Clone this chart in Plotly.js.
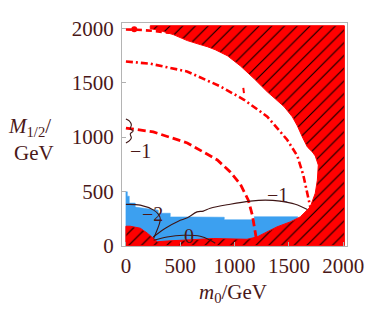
<!DOCTYPE html>
<html>
<head>
<meta charset="utf-8">
<script src="https://cdn.plot.ly/plotly-3.0.1.min.js"></script>
<style>html,body{margin:0;padding:0;background:#fff;}#chart{width:374px;height:313px;}</style>
</head>
<body>
<div id="chart"></div>
<script>
// Tick values
const tickVals = [0, 500, 1000, 1500, 2000];
const tickText = ["0", "500", "1000", "1500", "2000"];

// Excluded (red, hatched) region boundary: m0 and M1/2 in GeV
const redM0 = [0, 2010, 2010, 224, 224, 316, 436, 565, 684, 749, 822, 933, 1052, 1181, 1301, 1374, 1457, 1531, 1577, 1623, 1669, 1715, 1742, 1770, 1761, 1742, 1696, 1604, 1512, 1390, 1298, 1206, 1114, 804, 593, 408, 289, 252, 197, 132, 40, 0, 0];
const redM12 = [0, 0, 2025, 2025, 1998, 1980, 1943, 1888, 1851, 1832, 1804, 1749, 1656, 1536, 1416, 1352, 1278, 1186, 1103, 1001, 909, 863, 826, 742, 603, 483, 357, 265, 219, 173, 127, 80, 59, 66, 54, 45, 36, 68, 115, 161, 179, 179, 0];

// Blue region
const blueM0 = [0, 0, 13, 13, 31, 31, 86, 86, 298, 298, 408, 408, 565, 905, 905, 1181, 1181, 1580, 1580];
const blueM12 = [0, 496, 496, 456, 456, 392, 392, 355, 327, 299, 299, 265, 265, 262, 239, 239, 267, 267, 0];

// Red dashed contour
const dashM0 = [0, 252, 565, 730, 841, 960, 1052, 1126, 1163, 1190, 1209];
const dashM12 = [1083, 1047, 946, 853, 789, 678, 567, 419, 281, 123, 0];

// Red dash-dot contour
const dotM0 = [0, 224, 562, 871, 1087, 1301, 1485, 1577, 1632, 1696, 1733];
const dotM12 = [1696, 1675, 1604, 1465, 1343, 1188, 973, 826, 650, 354, 188];

// Red dashed contour along the top, plus small fragments
const topM0 = [0, 100, 250, 400];
const topM12 = [1990, 1988, 1978, 1960];
const blobM0 = [77];
const blobM12 = [1992];
const tickM0 = [1080, 1086];
const tickM12 = [1452, 1405];

// Black contours
const cM1aM0 = [0, 31, 50, 40, 68, 40, 50, 31, 0];
const cM1aM12 = [1167, 1149, 1112, 1075, 1057, 1029, 992, 964, 946];
const cM1bM0 = [251, 363, 482, 565, 654, 712, 776, 960, 1144, 1282, 1420, 1558, 1669];
const cM1bM12 = [80, 161, 226, 256, 311, 318, 345, 382, 410, 419, 410, 382, 333];
const cM2M0 = [0, 132, 255, 298, 316, 307, 286, 255];
const cM2M12 = [380, 373, 327, 290, 250, 198, 142, 66];
const c0M0 = [255, 378, 531, 684, 776, 822];
const c0M12 = [50, 80, 96, 87, 50, 22];

// Contour labels
const labText = ["\u22121", "\u22122", "0", "\u22121"];
const labM0 = [132, 243, 583, 1393];
const labM12 = [872, 289, 86, 464];

const RED = "#ff0000";
const BLUE = "rgb(60,160,240)";
const DARK = "#3e1414";
const TXT = "#4a1818";
const FONT = "Liberation Serif";

const traces = [
  {x: blueM0, y: blueM12, type: "scatter", mode: "lines+markers", fill: "toself",
   fillcolor: BLUE, line: {width: 0.5, color: BLUE, simplify: false},
   marker: {size: 1, opacity: 0}, hoverinfo: "skip"},
  {x: dashM0, y: dashM12, type: "scatter", mode: "lines",
   line: {color: RED, width: 2.8, dash: "8px,4px"}, hoverinfo: "skip"},
  {x: dotM0, y: dotM12, type: "scatter", mode: "lines",
   line: {color: RED, width: 2.6, dash: "7px,3px,2px,3px"}, hoverinfo: "skip"},
  {x: topM0, y: topM12, type: "scatter", mode: "lines",
   line: {color: RED, width: 2.6, dash: "6px,4px"}, hoverinfo: "skip"},
  {x: blobM0, y: blobM12, type: "scatter", mode: "markers",
   marker: {color: RED, size: 6}, hoverinfo: "skip"},
  {x: tickM0, y: tickM12, type: "scatter", mode: "lines",
   line: {color: RED, width: 2}, hoverinfo: "skip"},
  {x: redM0, y: redM12, type: "scatter", mode: "lines+markers", fill: "toself",
   fillcolor: RED, line: {width: 1, color: RED, simplify: false},
   marker: {size: 1, opacity: 0},
   fillpattern: {shape: "/", bgcolor: RED, fgcolor: "#000000", size: 9, solidity: 0.12},
   hoverinfo: "skip"},
  {x: cM1aM0, y: cM1aM12, type: "scatter", mode: "lines", line: {color: DARK, width: 1.1, shape: "spline"}, hoverinfo: "skip"},
  {x: cM1bM0, y: cM1bM12, type: "scatter", mode: "lines", line: {color: DARK, width: 1.1, shape: "spline"}, hoverinfo: "skip"},
  {x: cM2M0, y: cM2M12, type: "scatter", mode: "lines", line: {color: DARK, width: 1.1, shape: "spline"}, hoverinfo: "skip"},
  {x: c0M0, y: c0M12, type: "scatter", mode: "lines", line: {color: DARK, width: 1.1, shape: "spline"}, hoverinfo: "skip"}
];

const annotations = labText.map((t, i) => ({
  x: labM0[i], y: labM12[i], xref: "x", yref: "y", text: t, showarrow: false,
  font: {family: FONT, size: 20, color: TXT}, xanchor: "center", yanchor: "middle"
}));
annotations.push({
  xref: "paper", yref: "paper", x: -0.41, y: 0.535, text: "<i>M</i><sub>1/2</sub>/",
  showarrow: false, font: {family: FONT, size: 21, color: TXT}, xanchor: "center", yanchor: "middle"
});
annotations.push({
  xref: "paper", yref: "paper", x: -0.39, y: 0.415, text: "GeV",
  showarrow: false, font: {family: FONT, size: 21, color: TXT}, xanchor: "center", yanchor: "middle"
});
annotations.push({
  xref: "paper", yref: "paper", x: 0.493, y: -0.21, text: "<i>m</i><sub>0</sub>/GeV",
  showarrow: false, font: {family: FONT, size: 21, color: TXT}, xanchor: "center", yanchor: "middle"
});

const axisCommon = {
  tickvals: tickVals, ticktext: tickText, ticks: "inside", ticklen: 4, tickcolor: "#b0b0b0",
  showline: true, linecolor: "#b4b4b4", linewidth: 1, mirror: true,
  showgrid: false, zeroline: false,
  tickfont: {family: FONT, size: 21, color: TXT}
};

const layout = {
  width: 374, height: 313,
  margin: {l: 122, r: 27, t: 23, b: 67, pad: 0},
  paper_bgcolor: "#ffffff", plot_bgcolor: "#ffffff",
  showlegend: false,
  xaxis: Object.assign({}, axisCommon, {range: [-36, 2034], ticklabelstandoff: 1}),
  yaxis: Object.assign({}, axisCommon, {range: [-3, 2050], ticklabelstandoff: 3}),
  annotations: annotations
};

Plotly.newPlot("chart", traces, layout, {displayModeBar: false, staticPlot: true});
</script>
</body>
</html>
